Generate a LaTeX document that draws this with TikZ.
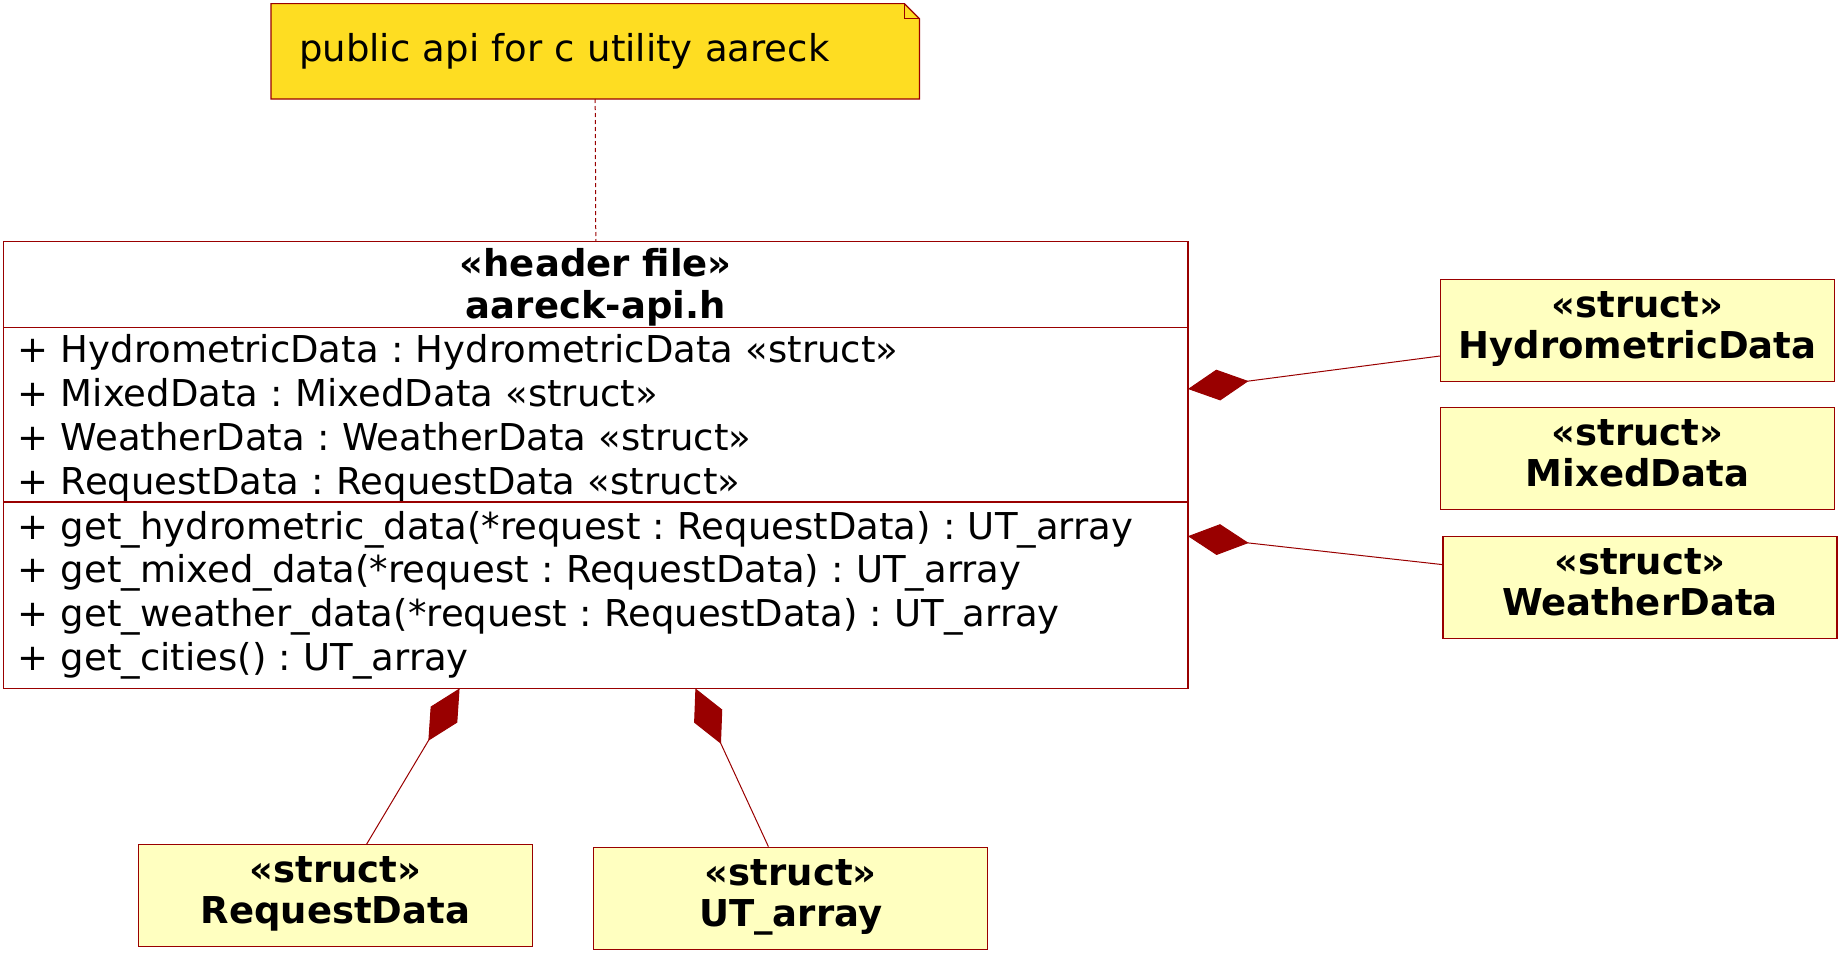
\documentclass[tikz,border=0pt]{standalone}
\usepackage[usenames,dvipsnames]{xcolor}
\usepackage{tikz}
\usetikzlibrary{backgrounds,calc,arrows.meta}
\usepackage{fontspec}
\setmainfont{DejaVu Sans}
\frenchspacing
\definecolor{umlred}{HTML}{990000}
\definecolor{notefill}{HTML}{FEDD22}
\definecolor{structfill}{HTML}{FFFFC0}
\newcommand{\structname}[1]{«struct»\rule{0pt}{14pt}\\#1\rule[-6.6pt]{0pt}{6.6pt}}

\begin{document}
\begin{tikzpicture}[x=1pt,y=-1pt,font=\fontsize{18.5}{21.9}\selectfont]
  \tikzstyle{compartment} = [draw=umlred,line width=0.6pt,fill=white,minimum width=592.2pt,inner xsep=7pt,inner ysep=0pt,outer sep=0pt,anchor=north]
  \tikzstyle{member} = [compartment,text width=578.2pt,align=left]
  \tikzstyle{struct} = [draw=umlred,line width=0.6pt,fill=structfill,minimum width=197pt,minimum height=51pt,inner sep=2pt,align=center,font=\fontsize{18.5}{20.6}\selectfont\bfseries]
  \tikzstyle{composition} = [draw=umlred,line width=0.5pt,arrows={-Diamond[length=30.5pt,width=15.5pt,fill=umlred]}]
  \tikzstyle{noteline} = [draw=umlred,line width=0.5pt,dash pattern=on 2pt off 1.5pt]
  %
  \useasboundingbox (0,0) rectangle (924,476.5);
  % Note.
  \node[text width=296pt,align=left,minimum height=47.7pt,inner xsep=14.1pt,outer sep=0pt] (note) at (297.6,25.65) {public api for c utility aareck};

  % Header file class.
  \node[compartment,minimum height=43pt,align=center,font=\fontsize{18.5}{21.2}\selectfont\bfseries] (head) at (297.9,120.8) {«header file»\rule{0pt}{16.6pt}\\aareck-api.h};
  \node[member,minimum height=87.2pt] (attrs) at (head.south) {%
    + HydrometricData : HydrometricData «struct»\rule{0pt}{17.6pt}\\
    + MixedData : MixedData «struct»\\
    + WeatherData : WeatherData «struct»\\
    + RequestData : RequestData «struct»};
  \node[member,minimum height=93.2pt] (ops) at (attrs.south) {%
    + get\_hydrometric\_data(*request : RequestData) : UT\_array\\
    + get\_mixed\_data(*request : RequestData) : UT\_array\\
    + get\_weather\_data(*request : RequestData) : UT\_array\\
    + get\_cities() : UT\_array};

  % Structs.
  \node[struct] (hydro) at (818.8,165.3) {\structname{HydrometricData}};
  \node[struct] (mixed) at (818.8,229.2) {\structname{MixedData}};
  \node[struct] (weather) at (820,293.8) {\structname{WeatherData}};
  \node[struct] (request) at (167.7,447.9) {\structname{RequestData}};
  \node[struct] (utarray) at (395.4,449.1) {\structname{UT\_array}};

  % Compositions.
  \draw[composition] ([yshift=-12.7pt]hydro.west) -- ([yshift=12.9pt]attrs.east);
  \draw[composition] ([yshift=11.5pt]weather.west) -- ([yshift=29.5pt]ops.east);
  \draw[composition] ([xshift=15.6pt]request.north) -- ([xshift=-68.1pt]ops.south);
  \draw[composition] ([xshift=-11.2pt]utarray.north) -- ([xshift=49.8pt]ops.south);

  % Note link.
  \draw[noteline] (note.south) -- (head.north);

  \begin{pgfonlayer}{background}
      % Draw note with folded corner.
      \filldraw[draw=umlred,fill=notefill,line width=0.6pt] (note.south west) -- (note.north west) -- ($(note.north east)+(-7.5,0)$) -- ($(note.north east)+(0,7.5)$) -- (note.south east) -- cycle;
      \draw[umlred,line width=0.6pt] ($(note.north east)+(-7.5,0)$) -- ++(0,7.5) -- ++(7.5,0);
  \end{pgfonlayer}
\end{tikzpicture}
\end{document}
